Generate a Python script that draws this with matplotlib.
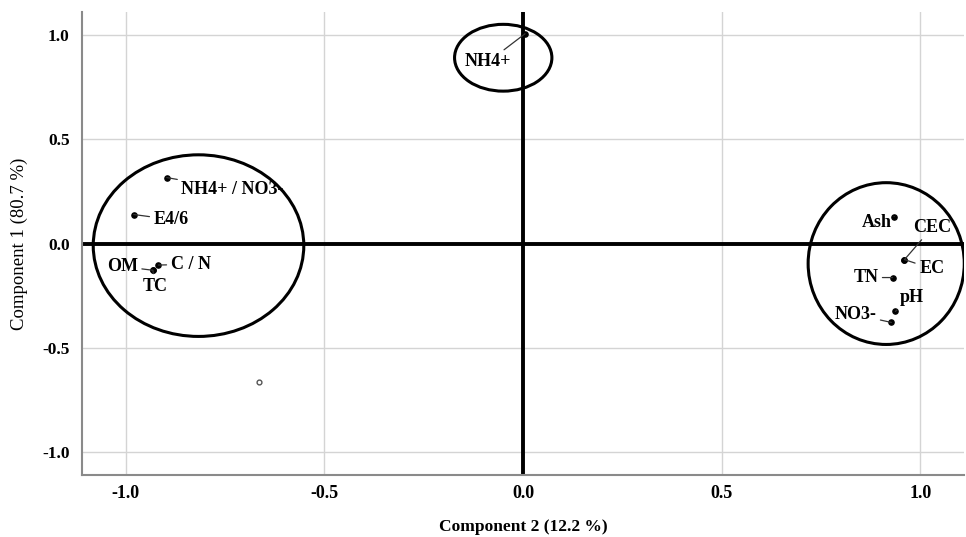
import matplotlib.pyplot as plt
from matplotlib.patches import Ellipse

# loadings (Component 2, Component 1)
names = ["NH4+", "NH4+ / NO3-", "E4/6", "C / N", "OM", "TC",
         "Ash", "CEC", "EC", "TN", "pH", "NO3-"]
comp2 = [0.005, -0.897, -0.980, -0.918, -0.932, -0.932,
         0.934, 0.960, 0.960, 0.930, 0.937, 0.927]
comp1 = [1.005, 0.316, 0.139, -0.103, -0.128, -0.128,
         0.129, -0.077, -0.077, -0.163, -0.325, -0.378]
# label anchor positions (data units) and alignment
label_x = [-0.088, -0.86, -0.93, -0.887, -0.97, -0.925,
           0.927, 0.982, 0.997, 0.894, 0.947, 0.889]
label_y = [0.87, 0.26, 0.115, -0.10, -0.11, -0.205,
           0.10, 0.077, -0.12, -0.163, -0.26, -0.34]
label_ha = ["center", "left", "left", "left", "right", "center",
            "right", "left", "left", "right", "left", "right"]

# group ellipses: centre x, centre y, width, height
ell_x = [-0.05, -0.817, 0.914]
ell_y = [0.89, -0.01, -0.096]
ell_w = [0.245, 0.53, 0.393]
ell_h = [0.32, 0.87, 0.775]

plt.rcParams['font.family'] = ['Liberation Serif', 'DejaVu Serif']

fig = plt.figure(figsize=(9.66, 5.37), dpi=100)
ax = fig.add_axes([0.085, 0.115, 0.913, 0.863])

ax.set_xlim(-1.11, 1.11)
ax.set_ylim(-1.11, 1.11)
ax.set_xticks([-1.0, -0.5, 0.0, 0.5, 1.0])
ax.set_yticks([-1.0, -0.5, 0.0, 0.5, 1.0])
ax.set_xticklabels(["-1.0", "-0.5", "0.0", "0.5", "1.0"])
ax.set_yticklabels(["-1.0", "-0.5", "0.0", "0.5", "1.0"])
ax.tick_params(axis='x', length=0, labelsize=13, pad=7)
ax.tick_params(axis='y', length=0, labelsize=12.5, pad=9)
for lab in ax.get_xticklabels() + ax.get_yticklabels():
    lab.set_fontweight('bold')
ax.grid(True, color='#d4d4d4', linewidth=1)
ax.set_axisbelow(True)

for s in ['top', 'right']:
    ax.spines[s].set_visible(False)
for s in ['left', 'bottom']:
    ax.spines[s].set_color('#8a8a8a')
    ax.spines[s].set_linewidth(1.5)

ax.axhline(0, color='black', linewidth=2.8, zorder=2)
ax.axvline(0, color='black', linewidth=2.8, zorder=2)

ax.scatter(comp2, comp1, s=14, color='black', zorder=4)
# stray hollow marker
ax.scatter([-0.665], [-0.665], s=12, facecolor='white', edgecolor='#555555',
           linewidth=1, zorder=4)

for i, name in enumerate(names):
    ax.annotate(name, xy=(comp2[i], comp1[i]), xytext=(label_x[i], label_y[i]),
                ha=label_ha[i], va='center', fontsize=13, fontweight='bold',
                arrowprops=dict(arrowstyle='-', color='#333333', lw=0.9,
                                shrinkA=1, shrinkB=0), zorder=5)

for cx, cy, w, h in zip(ell_x, ell_y, ell_w, ell_h):
    ax.add_patch(Ellipse((cx, cy), w, h, fill=False, edgecolor='black',
                         linewidth=2.2, zorder=3))

ax.set_xlabel("Component 2 (12.2 %)", fontsize=12.5, fontweight='bold', labelpad=12)
ax.set_ylabel("Component 1 (80.7 %)", fontsize=13.5, labelpad=10)

fig.savefig("out.png", dpi=100)
